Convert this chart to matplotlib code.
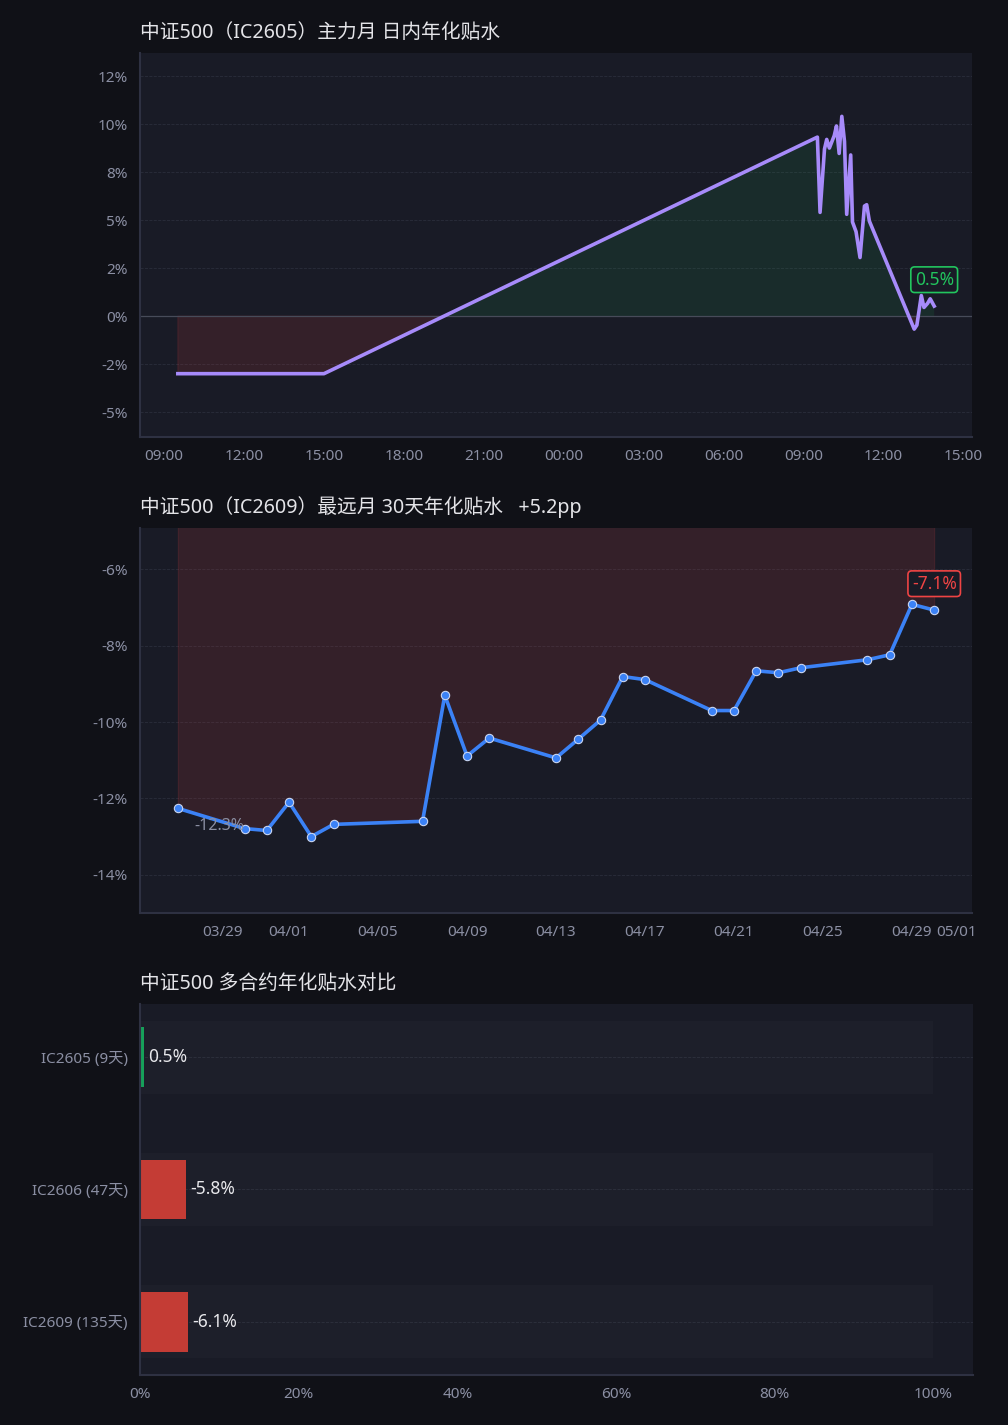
import numpy as np
import pandas as pd
import matplotlib
matplotlib.use('Agg')
import matplotlib.pyplot as plt
import matplotlib.dates as mdates
from matplotlib.ticker import FuncFormatter, MultipleLocator

plt.rcParams['font.family'] = ['Noto Sans', 'Noto Sans CJK SC', 'DejaVu Sans']
plt.rcParams['axes.unicode_minus'] = False

# intraday annualized basis of IC2605 (%)
intraday_time = ['2026-04-29 09:31', '2026-04-29 11:30', '2026-04-29 13:00', '2026-04-29 15:00',
                 '2026-04-30 09:31', '2026-04-30 09:37', '2026-04-30 09:47', '2026-04-30 09:52',
                 '2026-04-30 09:58', '2026-04-30 10:09', '2026-04-30 10:14', '2026-04-30 10:20',
                 '2026-04-30 10:26', '2026-04-30 10:32', '2026-04-30 10:37', '2026-04-30 10:46',
                 '2026-04-30 10:50', '2026-04-30 10:58', '2026-04-30 11:07', '2026-04-30 11:17',
                 '2026-04-30 11:22', '2026-04-30 11:28', '2026-04-30 13:09', '2026-04-30 13:15',
                 '2026-04-30 13:25', '2026-04-30 13:31', '2026-04-30 13:39', '2026-04-30 13:45',
                 '2026-04-30 13:54']
intraday_basis = [-3.0, -3.0, -3.0, -3.0,
                  9.32, 5.4, 8.7, 9.2,
                  8.75, 9.4, 9.9, 8.47,
                  10.4, 9.1, 5.3, 8.39,
                  4.9, 4.4, 3.05, 5.73,
                  5.8, 4.95, -0.68, -0.47,
                  1.07, 0.45, 0.66, 0.9,
                  0.52]

# far month (IC2609) 30-day annualized basis (%)
far_dates = ['2026-03-27', '2026-03-30', '2026-03-31', '2026-04-01', '2026-04-02', '2026-04-03',
             '2026-04-07', '2026-04-08', '2026-04-09', '2026-04-10', '2026-04-13', '2026-04-14',
             '2026-04-15', '2026-04-16', '2026-04-17', '2026-04-20', '2026-04-21', '2026-04-22',
             '2026-04-23', '2026-04-24', '2026-04-27', '2026-04-28', '2026-04-29', '2026-04-30']
far_basis = [-12.26, -12.79, -12.84, -12.1, -13.0, -12.68,
             -12.6, -9.3, -10.89, -10.42, -10.94, -10.45,
             -9.95, -8.81, -8.89, -9.7, -9.7, -8.66,
             -8.71, -8.58, -8.37, -8.24, -6.92, -7.07]

# contract comparison
contracts = ['IC2605 (9天)', 'IC2606 (47天)', 'IC2609 (135天)']
contract_basis = [0.5, -5.8, -6.1]

BG = '#101117'
AX_BG = '#191b26'
GRID = '#2a2d3b'
SPINE = '#2e3142'
TICK = '#8b8fa3'
TITLE = '#e4e4e8'
GREEN = '#22c55e'
RED = '#ef4444'
PURPLE = '#a78bfa'
BLUE = '#3b82f6'

fig = plt.figure(figsize=(10.08, 14.25), dpi=100, facecolor=BG)
ax1 = fig.add_axes([0.1389, 0.6933, 0.8254, 0.2695])
ax2 = fig.add_axes([0.1389, 0.3593, 0.8254, 0.2702])
ax3 = fig.add_axes([0.1389, 0.0351, 0.8264, 0.2604])

pct = FuncFormatter(lambda v, p: f'{v:.0f}%')


def style(ax):
    ax.set_facecolor(AX_BG)
    for s in ['top', 'right']:
        ax.spines[s].set_visible(False)
    for s in ['left', 'bottom']:
        ax.spines[s].set_color(SPINE)
        ax.spines[s].set_linewidth(1.5)
    ax.tick_params(colors=TICK, labelsize=11, length=0)
    ax.tick_params(axis='y', pad=9)
    ax.tick_params(axis='x', pad=8.5)


# ---- intraday
t = mdates.date2num(pd.to_datetime(intraday_time))
v = np.array(intraday_basis)
style(ax1)
ax1.grid(axis='y', color=GRID, linestyle='--', linewidth=0.6)
ax1.set_axisbelow(True)
ax1.axhline(0, color='#474b59', linewidth=0.9)
ax1.fill_between(t, v, 0, where=v >= 0, interpolate=True, color=GREEN, alpha=0.1, linewidth=0)
ax1.fill_between(t, v, 0, where=v <= 0, interpolate=True, color=RED, alpha=0.13, linewidth=0.8,
                 edgecolor=(0.94, 0.27, 0.27, 0.25))
ax1.plot(t, v, color=PURPLE, linewidth=2.6)
ax1.set_ylim(-6.3, 13.7)
ax1.yaxis.set_major_locator(MultipleLocator(2.5))
ax1.yaxis.set_major_formatter(pct)
ax1.xaxis.set_major_locator(mdates.HourLocator(byhour=range(0, 24, 3)))
ax1.xaxis.set_major_formatter(mdates.DateFormatter('%H:%M'))
ax1.annotate(f'{v[-1]:.1f}%', (t[-1], v[-1]), xytext=(0, 19), textcoords='offset points',
             ha='center', va='center', color=GREEN, fontsize=12.5,
             bbox=dict(boxstyle='round,pad=0.22', fc=AX_BG, ec=GREEN, lw=1.2))
ax1.set_title('中证500（IC2605）主力月 日内年化贴水', loc='left', color=TITLE, fontsize=14.2, pad=11)

# ---- far month
d = mdates.date2num(pd.to_datetime(far_dates))
f = np.array(far_basis)
style(ax2)
ax2.grid(axis='y', color=GRID, linestyle='--', linewidth=0.6)
ax2.set_axisbelow(True)
ax2.fill_between(d, f, 0, color=RED, alpha=0.13, linewidth=0.8, edgecolor=(0.94, 0.27, 0.27, 0.25))
ax2.plot(d, f, color=BLUE, linewidth=2.6, marker='o', markersize=6,
         markerfacecolor=BLUE, markeredgecolor='#c9d6f2', markeredgewidth=0.8)
ax2.set_ylim(f.min() - 2, f.max() + 2)
ax2.yaxis.set_major_locator(MultipleLocator(2))
ax2.yaxis.set_major_formatter(pct)
ax2.xaxis.set_major_locator(mdates.DayLocator(bymonthday=range(1, 32, 4)))
ax2.xaxis.set_major_formatter(mdates.DateFormatter('%m/%d'))
ax2.annotate(f'{f[0]:.1f}%', (d[0], f[0]), xytext=(12, -13), textcoords='offset points',
             ha='left', va='center', color=TICK, fontsize=11.5)
ax2.annotate(f'{f[-1]:.1f}%', (d[-1], f[-1]), xytext=(0, 19), textcoords='offset points',
             ha='center', va='center', color=RED, fontsize=12.5,
             bbox=dict(boxstyle='round,pad=0.22', fc=AX_BG, ec=RED, lw=1.2))
ax2.set_title(f'中证500（IC2609）最远月 30天年化贴水   {f[-1] - f[0]:+.1f}pp', loc='left',
              color=TITLE, fontsize=14.2, pad=11)

# ---- contracts
style(ax3)
ax3.grid(axis='y', color=GRID, linestyle='--', linewidth=0.6)
ax3.set_axisbelow(True)
y = np.arange(len(contracts))
cb = np.array(contract_basis)
ax3.barh(y, [100] * len(y), height=0.55, color='white', alpha=0.02)
cols = ['#16a05a' if c >= 0 else '#c43c35' for c in cb]
ax3.barh(y, np.abs(cb), height=0.45, color=cols)
for yi, c in zip(y, cb):
    ax3.annotate(f'{c:.1f}%', (abs(c), yi), xytext=(3, 0), textcoords='offset points',
                 ha='left', va='center', color='#e8e8ec', fontsize=12.5)
ax3.set_yticks(y)
ax3.set_yticklabels(contracts)
ax3.invert_yaxis()
ax3.set_xlim(0, 105)
ax3.set_xticks([0, 20, 40, 60, 80, 100])
ax3.xaxis.set_major_formatter(pct)
ax3.set_title('中证500 多合约年化贴水对比', loc='left', color=TITLE, fontsize=14.2, pad=11)

fig.savefig('out.png', dpi=100, facecolor=BG)
